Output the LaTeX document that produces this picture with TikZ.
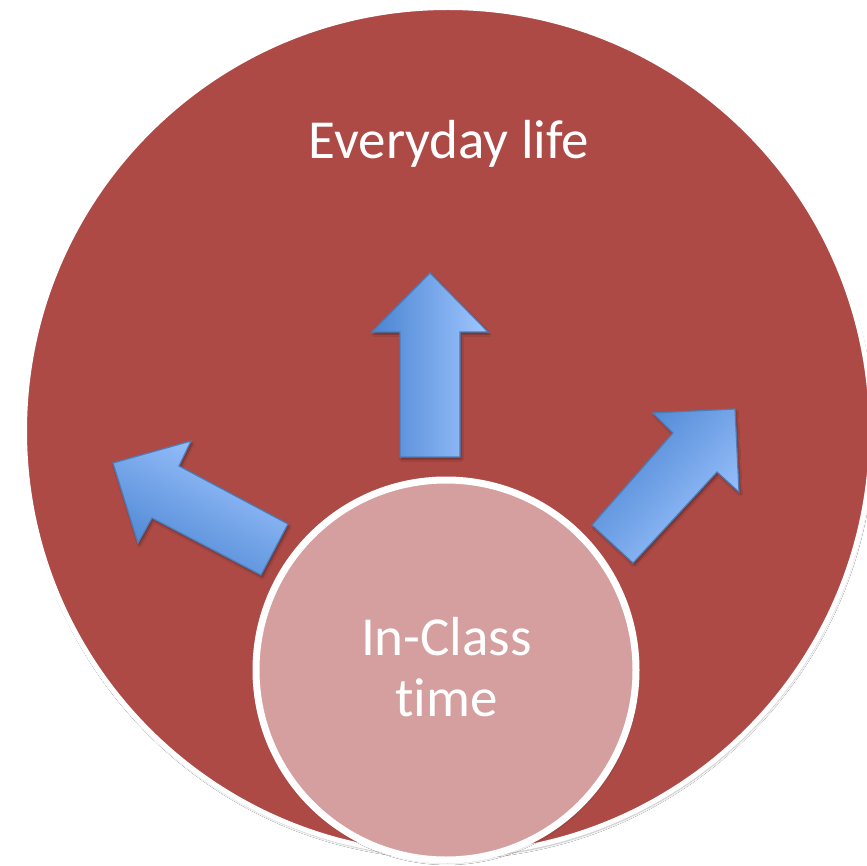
\documentclass[tikz,border=0pt]{standalone}
\usepackage{fontspec}
\setmainfont[Ligatures={NoCommon}]{Carlito}
\usetikzlibrary{shadows.blur}
\definecolor{bigred}{HTML}{AE4A46}
\definecolor{pinkin}{HTML}{D59F9F}
\definecolor{arrowdark}{HTML}{4A84D2}
\definecolor{arrowlight}{HTML}{A0C6FF}
\definecolor{arrowline}{HTML}{4A7EBB}
\begin{document}
\begin{tikzpicture}[x=1pt,y=-1pt,
  arrowshape/.style={draw=arrowline, line width=1.2pt, line join=miter,
    top color=arrowdark, bottom color=arrowlight,
    blur shadow={shadow xshift=1.5pt, shadow yshift=-2.5pt, shadow opacity=35, shadow blur steps=5}},
  ringstyle/.style={circle, draw=white, inner sep=0pt,
    blur shadow={shadow xshift=1pt, shadow yshift=-3pt, shadow opacity=30, shadow blur steps=6}},
  lbl/.style={text=white, font=\fontsize{55}{61}\selectfont, inner sep=0pt}]
\useasboundingbox (0,0) rectangle (867,866);
\clip (0,0) rectangle (867,866);
\fill[white] (0,0) rectangle (867,866);
% big circle
\node[ringstyle, fill=bigred, line width=5pt, minimum size=847pt] (life) at (448,431) {};
% arrows
\path[arrowshape, shading angle=90] (430,273) -- (488,332) -- (460,332) -- (460,457) -- (400,457) -- (400,332) -- (372,332) -- cycle;
\path[arrowshape, shading angle=151.8] (113,463) -- (191,441) -- (179,466) -- (288,524) -- (261,575) -- (152,518) -- (138,543) -- cycle;
\path[arrowshape, shading angle=47.8] (735,409) -- (739,492) -- (717,472) -- (633,563) -- (592,525) -- (673,433) -- (653,413) -- cycle;
% inner circle
\node[ringstyle, fill=pinkin, line width=7pt, minimum size=380pt] (class) at (446,670) {};
% labels
\node[lbl, anchor=base] (everyday) at (449,159) {Everyday life};
\node[lbl, anchor=base] (inclass) at (446.5,655) {In-Class};
\node[lbl, anchor=base] (time) at (446.5,716) {time};
\end{tikzpicture}
\end{document}
